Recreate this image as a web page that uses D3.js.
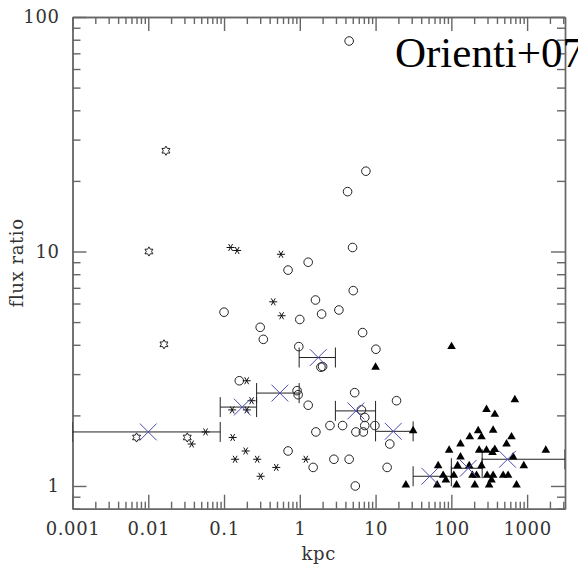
<!DOCTYPE html>
<html>
<head>
<meta charset="utf-8">
<script src="https://cdn.jsdelivr.net/npm/d3@7/dist/d3.min.js"></script>
<style>
  html, body { margin: 0; padding: 0; background: #fff; }
  svg { display: block; }
  .axis text { font-family: "DejaVu Serif", serif; font-size: 18px; fill: #333; letter-spacing: 0.6px; }
  .axis path, .axis line { stroke: #666; stroke-width: 1.4; }
</style>
</head>
<body>
<svg id="chart" width="578" height="568"></svg>
<script>
// projected separation (kpc) vs flux ratio
const starX = [0.0171, 0.0102, 0.0161, 0.0070, 0.0327];
const starY = [26.9, 10.0, 4.02, 1.61, 1.61];

const asteriskX = [0.122, 0.149, 0.564, 0.446, 0.575, 0.199, 0.128, 0.200, 0.231, 0.057,
  0.130, 0.140, 0.193, 0.274, 0.304, 0.489, 1.20, 0.0374];
const asteriskY = [10.4, 10.1, 9.73, 6.1, 5.32, 2.81, 2.11, 2.11, 2.31, 1.70,
  1.61, 1.30, 1.41, 1.30, 1.10, 1.20, 1.30, 1.51];

const circleX = [4.48, 7.45, 4.27, 4.97, 1.29, 0.70, 5.07, 1.61, 1.94, 3.28,
  1.0, 0.30, 0.33, 6.74, 0.10, 0.97, 10.1, 1.90, 2.00, 0.159,
  0.92, 0.95, 5.3, 18.9, 1.29, 6.5, 2.5, 3.67, 5.5, 6.9,
  7.2, 7.2, 9.8, 1.63, 0.70, 1.5, 2.82, 4.48, 5.4, 14.2, 15.4];
const circleY = [79, 22, 18, 10.4, 9.0, 8.33, 6.81, 6.21, 5.41, 5.63,
  5.13, 4.75, 4.22, 4.51, 5.51, 3.93, 3.83, 3.21, 3.23, 2.81,
  2.55, 2.45, 2.50, 2.31, 2.21, 2.11, 1.81, 1.81, 1.70, 1.70,
  1.81, 1.96, 1.81, 1.70, 1.41, 1.20, 1.30, 1.30, 1.0, 1.20, 1.51];

const triangleX = [10.0, 100.6, 689, 291, 375, 31.3, 226, 356, 250, 175,
  622, 132, 535, 93.5, 233, 291, 349, 375, 1765, 132,
  654, 121, 172, 250, 904, 67, 78, 108, 190, 215,
  297, 356, 483, 561, 84.6, 339, 25.1, 65, 117, 204, 315, 725];
const triangleY = [3.21, 3.93, 2.33, 2.12, 2.02, 1.72, 1.72, 1.73, 1.62, 1.62,
  1.62, 1.51, 1.51, 1.42, 1.42, 1.42, 1.39, 1.43, 1.42, 1.33,
  1.33, 1.22, 1.22, 1.22, 1.22, 1.22, 1.11, 1.11, 1.11, 1.11,
  1.11, 1.11, 1.11, 1.11, 1.06, 1.06, 1.01, 1.01, 1.01, 1.01, 1.01, 1.01];

// binned means with bin extents
const binX = [0.01, 0.174, 0.546, 1.75, 5.5, 17.1, 52, 167, 551];
const binY = [1.70, 2.17, 2.49, 3.53, 2.09, 1.71, 1.10, 1.19, 1.30];
const binLo = [0.001, 0.089, 0.269, 0.98, 2.95, 10, 31.3, 100, 255];
const binHi = [0.089, 0.269, 0.98, 2.95, 10, 31.3, 100, 255, 3162];

const xMajor = [0.001, 0.01, 0.1, 1, 10, 100, 1000];
const xLabels = ["0.001", "0.01", "0.1", "1", "10", "100", "1000"];
const yMajor = [1, 10, 100];
const yLabels = ["1", "10", "100"];

const svg = d3.select("#chart");
const plotL = 72.5, plotR = 565, plotT = 17, plotB = 508.7;

const x = d3.scaleLog().domain([0.001, Math.pow(10, 3.5)]).range([plotL, plotR]);
const y = d3.scaleLog().domain([0.8, 100]).range([plotB, plotT]);

const minorOf = (scale, major) =>
  scale.ticks().filter(v => !major.some(m => Math.abs(m - v) / m < 1e-6));
const xMinor = minorOf(x, xMajor);
const yMinor = minorOf(y, yMajor);

const lab = (vals, labels) => d => labels[vals.indexOf(d)];

// bottom
svg.append("g").attr("class", "axis").attr("transform", `translate(0,${plotB})`)
  .call(d3.axisBottom(x).tickValues(xMinor).tickSizeInner(-7).tickSizeOuter(0).tickFormat(""));
svg.append("g").attr("class", "axis").attr("transform", `translate(0,${plotB})`)
  .call(d3.axisBottom(x).tickValues(xMajor).tickSizeInner(-14).tickSizeOuter(0)
    .tickPadding(14).tickFormat(lab(xMajor, xLabels)));
// top
svg.append("g").attr("class", "axis").attr("transform", `translate(0,${plotT})`)
  .call(d3.axisTop(x).tickValues(xMinor).tickSizeInner(-7).tickSizeOuter(0).tickFormat(""));
svg.append("g").attr("class", "axis").attr("transform", `translate(0,${plotT})`)
  .call(d3.axisTop(x).tickValues(xMajor).tickSizeInner(-14).tickSizeOuter(0).tickFormat(""));
// left
svg.append("g").attr("class", "axis").attr("transform", `translate(${plotL},0)`)
  .call(d3.axisLeft(y).tickValues(yMinor).tickSizeInner(-8).tickSizeOuter(0).tickFormat(""));
svg.append("g").attr("class", "axis").attr("transform", `translate(${plotL},0)`)
  .call(d3.axisLeft(y).tickValues(yMajor).tickSizeInner(-14).tickSizeOuter(0)
    .tickPadding(13).tickFormat(lab(yMajor, yLabels)));
// right
svg.append("g").attr("class", "axis").attr("transform", `translate(${plotR},0)`)
  .call(d3.axisRight(y).tickValues(yMinor).tickSizeInner(-8).tickSizeOuter(0).tickFormat(""));
svg.append("g").attr("class", "axis").attr("transform", `translate(${plotR},0)`)
  .call(d3.axisRight(y).tickValues(yMajor).tickSizeInner(-14).tickSizeOuter(0).tickFormat(""));

svg.selectAll(".axis .domain").attr("stroke", "#666");

// axis titles
svg.append("text").attr("x", (plotL + plotR) / 2).attr("y", 560)
  .attr("text-anchor", "middle").attr("font-family", "DejaVu Serif, serif")
  .attr("font-size", 18).attr("letter-spacing", "0.6px").attr("fill", "#333").text("kpc");
svg.append("text").attr("transform", `translate(23,${(plotT + plotB) / 2}) rotate(-90)`)
  .attr("text-anchor", "middle").attr("font-family", "DejaVu Serif, serif")
  .attr("font-size", 18).attr("letter-spacing", "0.6px").attr("fill", "#333").text("flux ratio");

svg.append("clipPath").attr("id", "plot-clip").append("rect")
  .attr("x", plotL).attr("y", plotT).attr("width", plotR - plotL).attr("height", plotB - plotT);
const g = svg.append("g").attr("clip-path", "url(#plot-clip)");

const zip = (xs, ys) => xs.map((v, i) => [v, ys[i]]);

// custom marker shapes
const hexStar = {
  draw(ctx, size) {
    const ro = Math.sqrt(size), ri = ro / Math.sqrt(3);
    for (let k = 0; k < 12; k++) {
      const a = -Math.PI / 2 + k * Math.PI / 6, r = k % 2 ? ri : ro;
      k ? ctx.lineTo(r * Math.cos(a), r * Math.sin(a)) : ctx.moveTo(r * Math.cos(a), r * Math.sin(a));
    }
    ctx.closePath();
  }
};
const asterisk = {
  draw(ctx, size) {
    const r = Math.sqrt(size);
    for (const a of [0, Math.PI / 3, 2 * Math.PI / 3]) {
      ctx.moveTo(-r * Math.cos(a), -r * Math.sin(a));
      ctx.lineTo(r * Math.cos(a), r * Math.sin(a));
    }
  }
};
const cross = {
  draw(ctx, size) {
    const r = Math.sqrt(size);
    ctx.moveTo(-r, -r); ctx.lineTo(r, r);
    ctx.moveTo(-r, r); ctx.lineTo(r, -r);
  }
};

// bin error bars
const bins = binX.map((v, i) => ({ x: v, y: binY[i], lo: binLo[i], hi: binHi[i] }));
const eb = g.append("g").attr("stroke", "#222").attr("stroke-width", 1).attr("fill", "none");
eb.selectAll("line.h").data(bins).join("line").attr("class", "h")
  .attr("x1", d => x(d.lo)).attr("x2", d => x(d.hi))
  .attr("y1", d => y(d.y)).attr("y2", d => y(d.y));
eb.selectAll("line.cl").data(bins).join("line").attr("class", "cl")
  .attr("x1", d => x(d.lo)).attr("x2", d => x(d.lo))
  .attr("y1", d => y(d.y) - 10).attr("y2", d => y(d.y) + 10);
eb.selectAll("line.cr").data(bins).join("line").attr("class", "cr")
  .attr("x1", d => x(d.hi)).attr("x2", d => x(d.hi))
  .attr("y1", d => y(d.y) - 10).attr("y2", d => y(d.y) + 10);

g.selectAll("circle.pt").data(zip(circleX, circleY)).join("circle").attr("class", "pt")
  .attr("cx", d => x(d[0])).attr("cy", d => y(d[1])).attr("r", 4.3)
  .attr("fill", "none").attr("stroke", "#222").attr("stroke-width", 1);

g.selectAll("path.star").data(zip(starX, starY)).join("path").attr("class", "star")
  .attr("transform", d => `translate(${x(d[0])},${y(d[1])})`)
  .attr("d", d3.symbol(hexStar, 4.6 * 4.6)).attr("fill", "none").attr("stroke", "#222").attr("stroke-width", 1);

g.selectAll("path.ast").data(zip(asteriskX, asteriskY)).join("path").attr("class", "ast")
  .attr("transform", d => `translate(${x(d[0])},${y(d[1])})`)
  .attr("d", d3.symbol(asterisk, 16)).attr("fill", "none").attr("stroke", "#111").attr("stroke-width", 1);

g.selectAll("path.tri").data(zip(triangleX, triangleY)).join("path").attr("class", "tri")
  .attr("transform", d => `translate(${x(d[0])},${y(d[1])})`)
  .attr("d", d3.symbol(d3.symbolTriangle, 32)).attr("fill", "#000");

g.selectAll("path.mean").data(bins).join("path").attr("class", "mean")
  .attr("transform", d => `translate(${x(d.x)},${y(d.y)})`)
  .attr("d", d3.symbol(cross, 8.4 * 8.4)).attr("fill", "none")
  .attr("stroke", "#4b4bb0").attr("stroke-width", 1);

svg.append("text").attr("x", 395).attr("y", 67)
  .attr("font-family", "Liberation Serif, serif").attr("font-size", 43)
  .attr("fill", "#000").text("Orienti+07");
</script>
</body>
</html>
